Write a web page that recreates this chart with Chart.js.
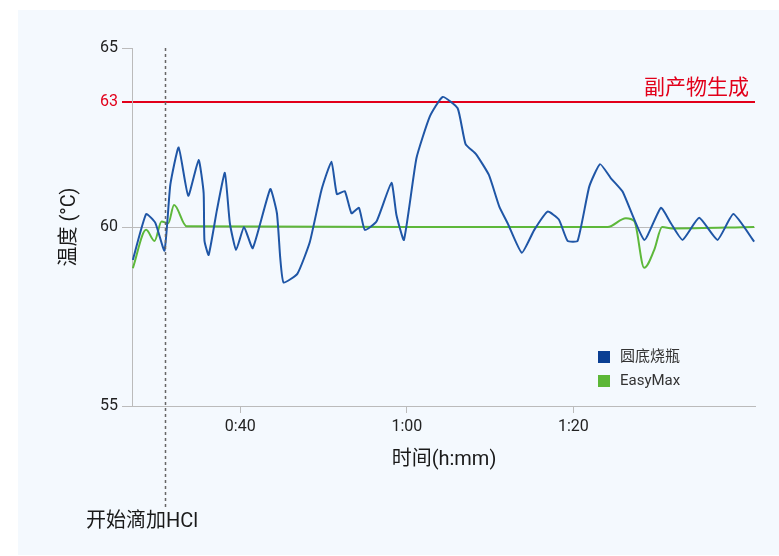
<!DOCTYPE html>
<html>
<head>
<meta charset="utf-8">
<script src="https://cdn.jsdelivr.net/npm/chart.js@4/dist/chart.umd.min.js"></script>
<style>
  body { margin: 0; background: #fff; }
</style>
</head>
<body>
<canvas id="tempChart" width="779" height="556"></canvas>
<script>
// time in minutes
const flaskTime = [27.1, 28.7, 29.8, 30.9, 31.6, 32.6, 33.75, 35.0, 35.6, 35.7, 36.2, 37.2, 38.15, 38.75, 39.5, 40.45, 41.5,
  43.6, 44.4, 44.8, 45.2, 46.85, 48.35, 49.75, 50.95, 51.6, 52.55, 53.35, 54.25, 54.95, 56.35, 58.15, 58.75, 59.65,
  61.15, 62.75, 64.3, 66.1, 67.05, 68.3, 69.85, 71.1, 72.1, 73.8, 75.3, 76.9, 78.25, 79.3, 80.5, 81.9, 83.2, 84.5,
  85.9, 88.5, 90.5, 91.7, 93.1, 95.1, 97.3, 99.2, 101.7]
const flaskTemp = [59.08, 60.31, 60.10, 59.34, 61.01, 61.91, 60.75, 61.61, 60.82, 59.62, 59.22, 60.41, 61.30, 60.09, 59.36, 60.0, 59.41,
  60.91, 60.33, 59.13, 58.45, 58.69, 59.58, 60.89, 61.57, 60.79, 60.86, 60.33, 60.46, 59.92, 60.13, 61.06, 60.29, 59.64,
  61.65, 62.65, 63.19, 62.85, 61.99, 61.75, 61.25, 60.49, 60.09, 59.28, 59.92, 60.37, 60.18, 59.61, 59.61, 60.97, 61.51, 61.17,
  60.85, 59.64, 60.46, 60.09, 59.64, 60.22, 59.64, 60.31, 59.59]
const easyTime = [27.1, 28.7, 29.7, 30.55, 31.35, 32.05, 33.55, 60.0, 84.1, 86.3, 87.3, 88.5, 89.7, 90.65, 91.85, 101.7]
const easyTemp = [58.85, 59.92, 59.61, 60.13, 60.09, 60.53, 60.02, 60.0, 60.0, 60.21, 60.14, 58.86, 59.36, 60.0, 59.96, 60.0]

const seriesNames = ['圆底烧瓶', 'EasyMax']
const yTicks = [55, 60, 63, 65]
const xTicks = [40, 60, 80]
const limitTemp = 63
const limitLabel = '副产物生成'
const hclStart = 31.0
const hclLabel = '开始滴加HCl'

const RED = '#e2001a'
const FAM = 'Roboto, "Noto Sans CJK SC", sans-serif'
const font = (s) => ({ size: s, family: FAM })

// the y axis of the original is not evenly spaced: 55-60, 60-63 and 63-65 take different lengths
const yFrac = [0, 0.5, 0.849, 1]
function toFrac(v) {
  for (let i = 1; i < yTicks.length; i++) {
    if (v <= yTicks[i] || i === yTicks.length - 1) {
      const a = yTicks[i - 1], b = yTicks[i]
      return yFrac[i - 1] + (v - a) / (b - a) * (yFrac[i] - yFrac[i - 1])
    }
  }
}
function fromFrac(f) {
  for (let i = 1; i < yFrac.length; i++) {
    if (f <= yFrac[i] || i === yFrac.length - 1) {
      return yTicks[i - 1] + (f - yFrac[i - 1]) / (yFrac[i] - yFrac[i - 1]) * (yTicks[i] - yTicks[i - 1])
    }
  }
}
class PiecewiseScale extends Chart.LinearScale {
  getPixelForValue(v) { return this.getPixelForDecimal(toFrac(v)) }
  getValueForPixel(p) { return fromFrac(this.getDecimalForPixel(p)) }
}
PiecewiseScale.id = 'piecewise'
PiecewiseScale.defaults = Chart.LinearScale.defaults
Chart.register(PiecewiseScale)

const extras = {
  id: 'extras',
  beforeDraw(chart) {
    const c = chart.ctx
    c.save()
    c.fillStyle = '#fff'
    c.fillRect(0, 0, chart.width, chart.height)
    c.fillStyle = '#f4f9fe'
    c.fillRect(18, 10, chart.width - 18, 545)
    c.restore()
  },
  afterDraw(chart) {
    const c = chart.ctx
    const xs = chart.scales.x, ys = chart.scales.y, area = chart.chartArea
    c.save()
    // HCl start marker
    const hx = Math.round(xs.getPixelForValue(hclStart)) + 0.5
    c.strokeStyle = '#666'
    c.lineWidth = 1.5
    c.setLineDash([3, 3])
    c.beginPath(); c.moveTo(hx, area.top); c.lineTo(hx, 507); c.stroke()
    c.setLineDash([])
    c.fillStyle = '#1a1a1a'
    c.font = '20px ' + FAM
    c.textAlign = 'center'; c.textBaseline = 'middle'
    c.fillText(hclLabel, 142, 522)
    // limit label
    c.fillStyle = RED
    c.font = '21px "Noto Sans CJK SC", sans-serif'
    c.textAlign = 'right'
    c.fillText(limitLabel, 749, ys.getPixelForValue(limitTemp) - 16)
    // axis titles
    c.fillStyle = '#1a1a1a'
    c.font = '20px ' + FAM
    c.textAlign = 'center'
    c.fillText('时间(h:mm)', 444, 460)
    c.save()
    c.translate(70, ys.getPixelForValue(60))
    c.rotate(-Math.PI / 2)
    c.fillText('温度 (°C)', 0, 0)
    c.restore()
    // legend
    c.font = '15px ' + FAM
    c.textAlign = 'left'
    const boxColors = ['#0a3f93', '#5cb737']
    seriesNames.forEach((n, i) => {
      const y = 357 + i * 24
      c.fillStyle = boxColors[i]
      c.fillRect(598, y - 6, 12, 12)
      c.fillStyle = '#333'
      c.fillText(n, 620, y)
    })
    c.restore()
  }
}

new Chart(document.getElementById('tempChart'), {
  type: 'line',
  data: {
    datasets: [
      {
        label: seriesNames[0],
        data: flaskTime.map((t, i) => ({ x: t, y: flaskTemp[i] })),
        borderColor: '#1f56a6',
        borderWidth: 2,
        pointRadius: 0,
        tension: 0.15,
        fill: false
      },
      {
        label: seriesNames[1],
        data: easyTime.map((t, i) => ({ x: t, y: easyTemp[i] })),
        borderColor: '#5db83a',
        borderWidth: 2,
        pointRadius: 0,
        cubicInterpolationMode: 'monotone',
        fill: false
      }
    ]
  },
  options: {
    responsive: false,
    animation: false,
    layout: { padding: { left: 0, right: 24, top: 48, bottom: 0 } },
    plugins: { legend: { display: false }, tooltip: { enabled: false } },
    scales: {
      x: {
        type: 'linear',
        min: 27,
        max: 101.8,
        afterBuildTicks: s => { s.ticks = xTicks.map(v => ({ value: v })) },
        afterFit: s => { s.height = 150 },
        ticks: {
          font: font(16),
          color: '#222',
          padding: 4,
          callback: v => Math.floor(v / 60) + ':' + String(v % 60).padStart(2, '0')
        },
        grid: { drawOnChartArea: false, tickLength: 7, color: '#bbb' },
        border: { color: '#bbb' }
      },
      y: {
        type: 'piecewise',
        min: 55,
        max: 65,
        afterBuildTicks: s => { s.ticks = yTicks.map(v => ({ value: v })) },
        afterFit: s => { s.width = 132 },
        ticks: {
          font: font(16),
          color: ctx => ctx.tick.value === limitTemp ? RED : '#222',
          padding: 4
        },
        grid: {
          tickLength: 10,
          color: ctx => ctx.tick.value === limitTemp ? RED : ctx.tick.value === 60 ? '#bbb' : 'rgba(0,0,0,0)',
          tickColor: ctx => ctx.tick.value === limitTemp ? RED : '#bbb',
          lineWidth: ctx => ctx.tick.value === limitTemp ? 2 : 1
        },
        border: { color: '#bbb' }
      }
    }
  },
  plugins: [extras]
})
</script>
</body>
</html>
